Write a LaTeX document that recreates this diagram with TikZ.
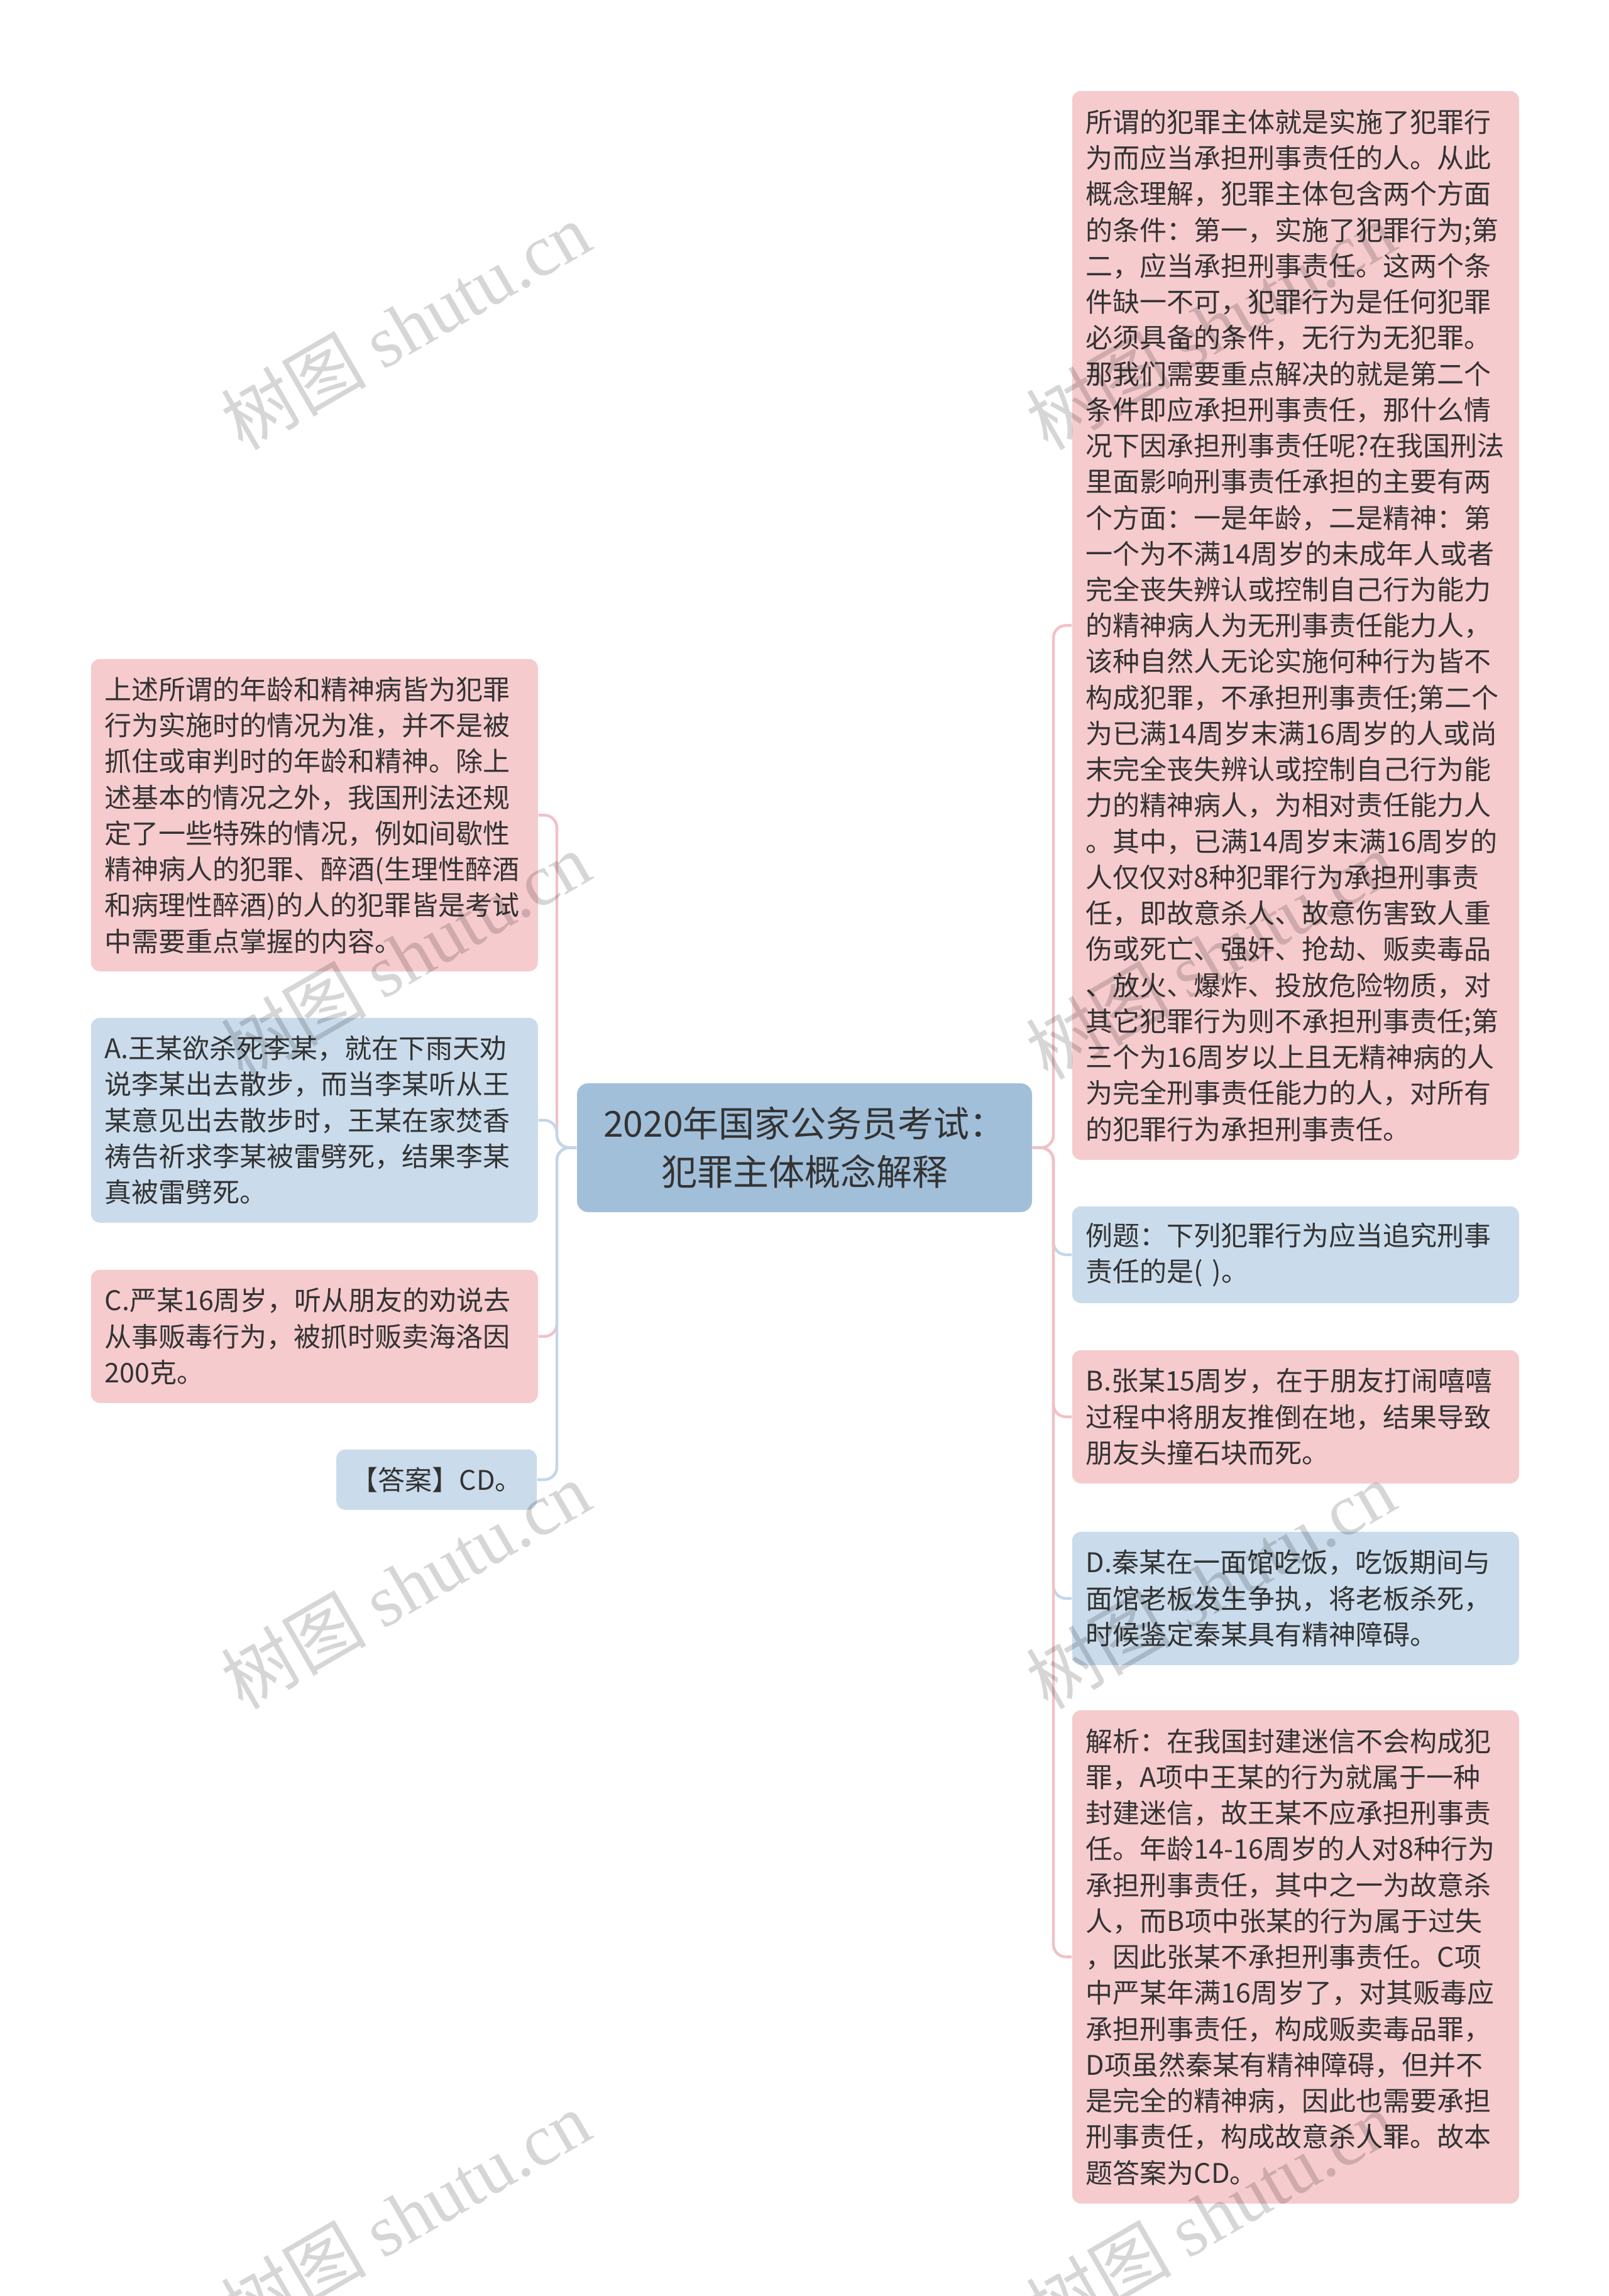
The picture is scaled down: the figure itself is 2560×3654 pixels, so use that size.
\documentclass[tikz,border=0pt]{standalone}
\usepackage{fontspec}
\setmainfont{Noto Sans CJK SC}
\newfontfamily\wmlatin{Liberation Serif}
\newfontfamily\wmcjk{Noto Sans CJK SC}
\definecolor{pinkf}{HTML}{F6CBCE}
\definecolor{bluef}{HTML}{CADCEC}
\definecolor{centf}{HTML}{A2BFD9}
\definecolor{pinkl}{HTML}{F2C0C5}
\definecolor{bluel}{HTML}{C2D6EA}
\definecolor{txtc}{HTML}{333333}
\tikzset{
  bodytxt/.style={font=\fontsize{10.75pt}{14.31pt}\selectfont, text=txtc},
  boxbase/.style={bodytxt, rounded corners=3.5pt, anchor=north west, inner xsep=5.5pt, inner ysep=0pt,
    text width=166.75pt, align=left, minimum width=177.75pt},
  pinkbox/.style={boxbase, fill=pinkf},
  bluebox/.style={boxbase, fill=bluef},
  centbox/.style={fill=centf, rounded corners=4.5pt, font=\fontsize{14.25pt}{19.25pt}\selectfont,
    text=txtc, align=center, minimum width=181pt, minimum height=51.25pt, inner sep=0pt},
  pinkln/.style={draw=pinkl, line width=1.1pt, rounded corners=5pt},
  blueln/.style={draw=bluel, line width=1.1pt, rounded corners=5pt},
  wmark/.style={rotate=30, font=\fontsize{29pt}{31pt}\selectfont, text=black, text opacity=0.16, inner sep=0pt}
}
\begin{document}
\begin{tikzpicture}[x=0.25pt, y=-0.25pt]
\useasboundingbox (0,0) rectangle (2560,3654);
\fill[white] (0,0) rectangle (2560,3654);

% center
\node[centbox] (c) at (1280,1826.5) {2020年国家公务员考试：\\犯罪主体概念解释};

% right column
\node[pinkbox, minimum height=425.25pt] (r1) at (1705,144) {所谓的犯罪主体就是实施了犯罪行\\为而应当承担刑事责任的人。从此\\概念理解，犯罪主体包含两个方面\\的条件：第一，实施了犯罪行为;第\\二，应当承担刑事责任。这两个条\\件缺一不可，犯罪行为是任何犯罪\\必须具备的条件，无行为无犯罪。\\那我们需要重点解决的就是第二个\\条件即应承担刑事责任，那什么情\\况下因承担刑事责任呢?在我国刑法\\里面影响刑事责任承担的主要有两\\个方面：一是年龄，二是精神：第\\一个为不满14周岁的未成年人或者\\完全丧失辨认或控制自己行为能力\\的精神病人为无刑事责任能力人，\\该种自然人无论实施何种行为皆不\\构成犯罪，不承担刑事责任;第二个\\为已满14周岁末满16周岁的人或尚\\末完全丧失辨认或控制自己行为能\\力的精神病人，为相对责任能力人\\。其中，已满14周岁末满16周岁的\\人仅仅对8种犯罪行为承担刑事责\\任，即故意杀人、故意伤害致人重\\伤或死亡、强奸、抢劫、贩卖毒品\\、放火、爆炸、投放危险物质，对\\其它犯罪行为则不承担刑事责任;第\\三个为16周岁以上且无精神病的人\\为完全刑事责任能力的人，对所有\\的犯罪行为承担刑事责任。};
\node[bluebox, minimum height=38.5pt] (r2) at (1705,1919) {例题：下列犯罪行为应当追究刑事\\责任的是( )。};
\node[pinkbox, minimum height=53pt] (r3) at (1705,2148) {B.张某15周岁，在于朋友打闹嘻嘻\\过程中将朋友推倒在地，结果导致\\朋友头撞石块而死。};
\node[bluebox, minimum height=53pt] (r4) at (1705,2437) {D.秦某在一面馆吃饭，吃饭期间与\\面馆老板发生争执，将老板杀死，\\时候鉴定秦某具有精神障碍。};
\node[pinkbox, minimum height=196.25pt] (r5) at (1705,2721) {解析：在我国封建迷信不会构成犯\\罪，A项中王某的行为就属于一种\\封建迷信，故王某不应承担刑事责\\任。年龄14-16周岁的人对8种行为\\承担刑事责任，其中之一为故意杀\\人，而B项中张某的行为属于过失\\，因此张某不承担刑事责任。C项\\中严某年满16周岁了，对其贩毒应\\承担刑事责任，构成贩卖毒品罪，\\D项虽然秦某有精神障碍，但并不\\是完全的精神病，因此也需要承担\\刑事责任，构成故意杀人罪。故本\\题答案为CD。};

% left column
\node[pinkbox, minimum height=124.25pt] (l1) at (144,1048) {上述所谓的年龄和精神病皆为犯罪\\行为实施时的情况为准，并不是被\\抓住或审判时的年龄和精神。除上\\述基本的情况之外，我国刑法还规\\定了一些特殊的情况，例如间歇性\\精神病人的犯罪、醉酒(生理性醉酒\\和病理性醉酒)的人的犯罪皆是考试\\中需要重点掌握的内容。};
\node[bluebox, minimum height=81.5pt] (l2) at (144,1619) {A.王某欲杀死李某，就在下雨天劝\\说李某出去散步，而当李某听从王\\某意见出去散步时，王某在家焚香\\祷告祈求李某被雷劈死，结果李某\\真被雷劈死。};
\node[pinkbox, minimum height=53pt] (l3) at (144,2020) {C.严某16周岁，听从朋友的劝说去\\从事贩毒行为，被抓时贩卖海洛因\\200克。};
\node[bodytxt, fill=bluef, rounded corners=3.5pt, anchor=north east, inner sep=0pt, align=center,
  minimum width=79.75pt, minimum height=24pt] (l4) at (855,2306) {【答案】CD。};

% connectors
\coordinate (rt) at (1676,1826.5);
\coordinate (lt) at (886,1826.5);
\draw[pinkln] (c.east) -- (rt) |- (r1.west);
\draw[blueln] (c.east) -- (rt) |- (r2.west);
\draw[pinkln] (c.east) -- (rt) |- (r3.west);
\draw[blueln] (c.east) -- (rt) |- (r4.west);
\draw[pinkln] (c.east) -- (rt) |- (r5.west);
\draw[pinkln] (c.west) -- (lt) |- (l1.east);
\draw[blueln] (c.west) -- (lt) |- (l2.east);
\draw[pinkln] (c.west) -- (lt) |- (l3.east);
\draw[blueln] (c.west) -- (lt) |- (l4.east);

% watermarks
\node[wmark] (wm1) at (645,518) {{\wmcjk 树图} {\wmlatin shutu.cn}};
\node[wmark] (wm2) at (1926,518) {{\wmcjk 树图} {\wmlatin shutu.cn}};
\node[wmark] (wm3) at (645,1520) {{\wmcjk 树图} {\wmlatin shutu.cn}};
\node[wmark] (wm4) at (1926,1520) {{\wmcjk 树图} {\wmlatin shutu.cn}};
\node[wmark] (wm5) at (645,2522) {{\wmcjk 树图} {\wmlatin shutu.cn}};
\node[wmark] (wm6) at (1926,2522) {{\wmcjk 树图} {\wmlatin shutu.cn}};
\node[wmark] (wm7) at (645,3524) {{\wmcjk 树图} {\wmlatin shutu.cn}};
\node[wmark] (wm8) at (1926,3524) {{\wmcjk 树图} {\wmlatin shutu.cn}};
\end{tikzpicture}
\end{document}
